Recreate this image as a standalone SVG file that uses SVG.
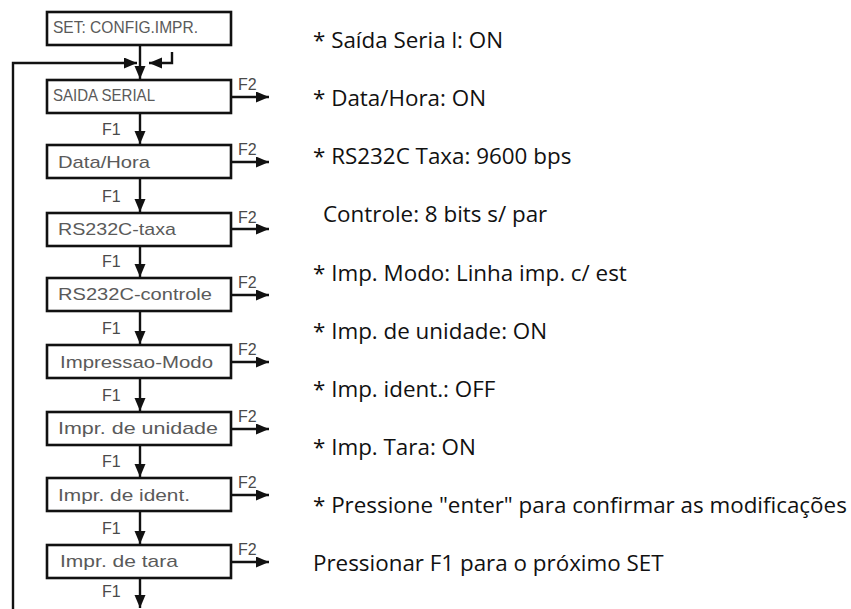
<svg xmlns="http://www.w3.org/2000/svg" width="851" height="609" viewBox="0 0 851 609">
<defs>
<style>
.box{fill:#fff;stroke:#111;stroke-width:2.6}
.lbl{font-family:"Liberation Sans",Arial,sans-serif;font-size:17px;fill:#5a5a5a}
.key{font-family:"Liberation Sans",Arial,sans-serif;font-size:16px;fill:#4a4a4a}
.con{fill:none;stroke:#111;stroke-width:2.4}
.note{font-family:"Open Sans","Noto Sans",sans-serif;font-size:22.4px;fill:#111}
</style>
<marker id="ah" markerUnits="userSpaceOnUse" markerWidth="14" markerHeight="12" refX="13" refY="5.5" orient="auto">
<path d="M0,0 L13,5.5 L0,11 z" fill="#111"/>
</marker>
</defs>
<rect width="851" height="609" fill="#fff"/>

<g id="connectors">
<path class="con" d="M140,46 V79" marker-end="url(#ah)"/>
<path class="con" d="M13,609 V63 H137" marker-end="url(#ah)"/>
<path class="con" d="M172,52 V63 H149" marker-end="url(#ah)"/>
<path class="con" d="M140,113 V144" marker-end="url(#ah)"/>
<path class="con" d="M140,178 V212" marker-end="url(#ah)"/>
<path class="con" d="M140,246 V277" marker-end="url(#ah)"/>
<path class="con" d="M140,311 V344" marker-end="url(#ah)"/>
<path class="con" d="M140,378 V411" marker-end="url(#ah)"/>
<path class="con" d="M140,445 V477" marker-end="url(#ah)"/>
<path class="con" d="M140,511 V544" marker-end="url(#ah)"/>
<path class="con" d="M140,578 V608" marker-end="url(#ah)"/>
<path class="con" d="M231,97 H269" marker-end="url(#ah)"/>
<path class="con" d="M231,162 H269" marker-end="url(#ah)"/>
<path class="con" d="M231,229 H269" marker-end="url(#ah)"/>
<path class="con" d="M231,295 H269" marker-end="url(#ah)"/>
<path class="con" d="M231,362 H269" marker-end="url(#ah)"/>
<path class="con" d="M231,429 H269" marker-end="url(#ah)"/>
<path class="con" d="M231,495 H269" marker-end="url(#ah)"/>
<path class="con" d="M231,562 H269" marker-end="url(#ah)"/>
<text class="key" x="102" y="135">F1</text>
<text class="key" x="102" y="202">F1</text>
<text class="key" x="102" y="267">F1</text>
<text class="key" x="102" y="334">F1</text>
<text class="key" x="102" y="401">F1</text>
<text class="key" x="102" y="467">F1</text>
<text class="key" x="102" y="534">F1</text>
<text class="key" x="102" y="597">F1</text>
<text class="key" x="238" y="90">F2</text>
<text class="key" x="238" y="155">F2</text>
<text class="key" x="238" y="223">F2</text>
<text class="key" x="238" y="288">F2</text>
<text class="key" x="238" y="355">F2</text>
<text class="key" x="238" y="422">F2</text>
<text class="key" x="238" y="488">F2</text>
<text class="key" x="238" y="555">F2</text>
</g>

<g id="n-set"><rect class="box" x="47" y="12" width="184" height="33"/><text class="lbl" x="53" y="33" font-size="14" textLength="145" lengthAdjust="spacingAndGlyphs">SET: CONFIG.IMPR.</text></g>
<g id="n-saida"><rect class="box" x="47" y="80" width="184" height="33"/><text class="lbl" x="53" y="101" font-size="15" textLength="102" lengthAdjust="spacingAndGlyphs">SAIDA SERIAL</text></g>
<g id="n-data"><rect class="box" x="47" y="145" width="184" height="33"/><text class="lbl" x="58" y="168" textLength="92" lengthAdjust="spacingAndGlyphs">Data/Hora</text></g>
<g id="n-taxa"><rect class="box" x="47" y="213" width="184" height="33"/><text class="lbl" x="58" y="235" textLength="118" lengthAdjust="spacingAndGlyphs">RS232C-taxa</text></g>
<g id="n-controle"><rect class="box" x="47" y="278" width="184" height="33"/><text class="lbl" x="58" y="300" textLength="154" lengthAdjust="spacingAndGlyphs">RS232C-controle</text></g>
<g id="n-modo"><rect class="box" x="47" y="345" width="184" height="33"/><text class="lbl" x="60" y="368" textLength="153" lengthAdjust="spacingAndGlyphs">Impressao-Modo</text></g>
<g id="n-unidade"><rect class="box" x="47" y="412" width="184" height="33"/><text class="lbl" x="58" y="434" textLength="160" lengthAdjust="spacingAndGlyphs">Impr. de unidade</text></g>
<g id="n-ident"><rect class="box" x="47" y="478" width="184" height="33"/><text class="lbl" x="58" y="501" textLength="132" lengthAdjust="spacingAndGlyphs">Impr. de ident.</text></g>
<g id="n-tara"><rect class="box" x="47" y="545" width="184" height="33"/><text class="lbl" x="60" y="567" textLength="118" lengthAdjust="spacingAndGlyphs">Impr. de tara</text></g>

<g id="notes">
<text class="note" x="313" y="48">* Saída Seria l: ON</text>
<text class="note" x="313" y="106">* Data/Hora: ON</text>
<text class="note" x="313" y="164">* RS232C Taxa: 9600 bps</text>
<text class="note" x="323" y="222">Controle: 8 bits s/ par</text>
<text class="note" x="313" y="281">* Imp. Modo: Linha imp. c/ est</text>
<text class="note" x="313" y="339">* Imp. de unidade: ON</text>
<text class="note" x="313" y="397">* Imp. ident.: OFF</text>
<text class="note" x="313" y="455">* Imp. Tara: ON</text>
<text class="note" x="313" y="513">* Pressione "enter" para confirmar as modificações</text>
<text class="note" x="313" y="571">Pressionar F1 para o próximo SET</text>
</g>
</svg>
